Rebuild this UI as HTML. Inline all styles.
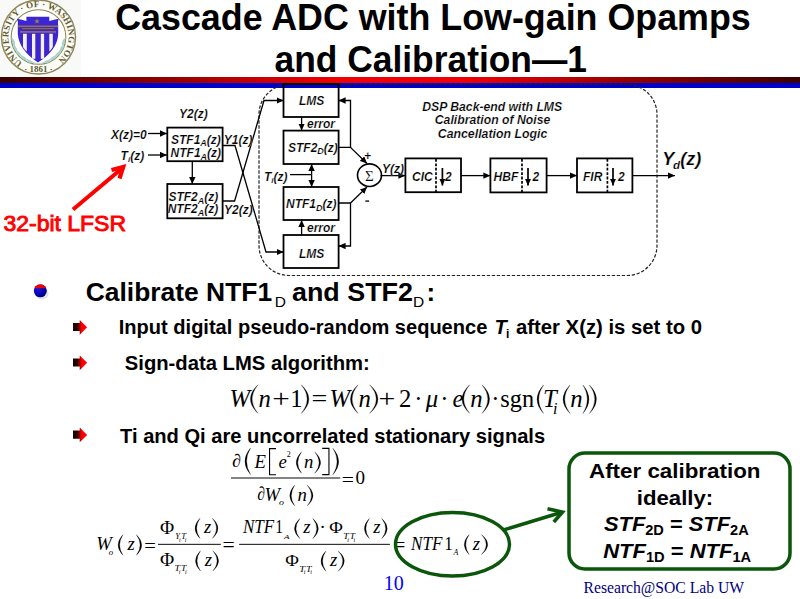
<!DOCTYPE html>
<html><head><meta charset="utf-8">
<style>
html,body{margin:0;padding:0;background:#fff;width:800px;height:599px;overflow:hidden}
svg{display:block}
.t{font-family:"Liberation Sans",sans-serif;font-weight:bold}
.d{font-family:"Liberation Sans",sans-serif;font-weight:bold;font-style:italic}
.m{font-family:"Liberation Serif",serif}
</style></head><body>
<svg width="800" height="599" viewBox="0 0 800 599" xmlns="http://www.w3.org/2000/svg">
<defs>
<linearGradient id="rg" x1="0" x2="800" y1="0" y2="0" gradientUnits="userSpaceOnUse">
<stop offset="0" stop-color="#380000"/><stop offset="0.42" stop-color="#f00000"/><stop offset="0.58" stop-color="#f00000"/><stop offset="1" stop-color="#380000"/>
</linearGradient>
<marker id="ah" markerWidth="7" markerHeight="6.4" refX="7" refY="3.2" orient="auto" markerUnits="userSpaceOnUse"><path d="M0,0 L7,3.2 L0,6.4 z" fill="#000"/></marker>
</defs>

<!-- LOGO -->
<g id="logo">
<rect x="0" y="0" width="81" height="77" fill="#f9f9f7"/>
<defs>
<path id="arcL" d="M22.60,62.44 A30,30 0 1 1 54.40,62.44"/>
</defs>
<circle cx="38.5" cy="37" r="37" fill="#fdfdf8" stroke="#8e8658" stroke-width="1.4"/>
<circle cx="38.5" cy="37" r="27.3" fill="#fff" stroke="#8e8658" stroke-width="1.1"/>
<text font-family="Liberation Serif" font-weight="bold" font-size="9" fill="#5f5a30" ><textPath href="#arcL" textLength="150" lengthAdjust="spacing">UNIVERSITY · OF · WASHINGTON</textPath></text>
<text font-family="Liberation Serif" font-weight="bold" font-size="9" fill="#5f5a30" text-anchor="middle" x="38.5" y="71.5">· 1861 ·</text>
<g fill="none" stroke="#b0d8d8" stroke-width="1.2">
<path d="M12,38 Q14,56 37,64"/>
<path d="M65,38 Q63,56 40,64"/>
</g>
<g fill="#a8d4cc">
<ellipse cx="13.5" cy="42" rx="1.3" ry="3.2" transform="rotate(-15 13.5 42)"/>
<ellipse cx="15" cy="48" rx="1.3" ry="3.2" transform="rotate(-30 15 48)"/>
<ellipse cx="18.5" cy="53.5" rx="1.3" ry="3.2" transform="rotate(-45 18.5 53.5)"/>
<ellipse cx="23.5" cy="58" rx="1.3" ry="3.2" transform="rotate(-60 23.5 58)"/>
<ellipse cx="29.5" cy="61.5" rx="1.3" ry="3.2" transform="rotate(-72 29.5 61.5)"/>
<ellipse cx="63.5" cy="42" rx="1.3" ry="3.2" transform="rotate(15 63.5 42)"/>
<ellipse cx="62" cy="48" rx="1.3" ry="3.2" transform="rotate(30 62 48)"/>
<ellipse cx="58.5" cy="53.5" rx="1.3" ry="3.2" transform="rotate(45 58.5 53.5)"/>
<ellipse cx="53.5" cy="58" rx="1.3" ry="3.2" transform="rotate(60 53.5 58)"/>
<ellipse cx="47.5" cy="61.5" rx="1.3" ry="3.2" transform="rotate(72 47.5 61.5)"/>
</g>
<path d="M17,18.8 Q22,19.5 26.4,21 L26.4,16.8 L49.3,16.8 L49.3,21 Q54,19.5 58.6,18.8 Q57.5,22 58.2,26 L58.2,34 Q57.5,50 38,62.5 Q19,50 17.8,34 L17.8,26 Q18.5,22 17,18.8 Z" fill="#3c26d4"/>
<rect x="18" y="25.5" width="40" height="1.6" fill="#9a7040"/>
<rect x="22" y="28" width="32" height="1.2" fill="#8a6a48"/>
<rect x="20" y="31.2" width="36" height="1.4" fill="#a07850"/>
<path d="M37,18.5 L37.8,20.5 L39.8,20.6 L38.2,21.8 L38.8,23.6 L37,22.5 L35.2,23.6 L35.8,21.8 L34.2,20.6 L36.2,20.5 Z" fill="#a08040"/>
<g fill="#f4f0dc">
<path d="M23,33.8 H26.8 V51.5 Q24.8,50 23,47 Z"/>
<rect x="32" y="33.8" width="3.3" height="25"/>
<rect x="40.8" y="33.8" width="3.3" height="25"/>
<path d="M49.3,33.8 H52.8 V47 Q51,50 49.3,51.5 Z"/>
</g>
</g>

<!-- TITLE -->
<text class="t" x="433" y="29.5" font-size="36" text-anchor="middle" textLength="635.5" lengthAdjust="spacingAndGlyphs">Cascade ADC with Low-gain Opamps</text>
<text class="t" x="430.75" y="71.5" font-size="36" text-anchor="middle" textLength="312.5" lengthAdjust="spacingAndGlyphs">and Calibration—1</text>

<!-- RULES -->
<rect x="0" y="77" width="800" height="6" fill="url(#rg)"/>
<rect x="0" y="83" width="800" height="5" fill="#0000cc"/>


<!-- DIAGRAM -->
<g id="diag" stroke="#000" fill="none">
<rect x="259" y="84.5" width="398" height="191" rx="30" ry="30" stroke-width="1.2" stroke="#222" stroke-dasharray="3.3,1.7"/>
<g stroke-width="1.8" fill="#fff">
<rect x="167.3" y="127.6" width="55.3" height="33.6"/>
<rect x="167.3" y="184" width="55.3" height="34.3"/>
<rect x="283.5" y="84" width="55.1" height="33" fill="none"/>
<rect x="283.5" y="130.6" width="55.1" height="33.4"/>
<rect x="283.5" y="187" width="55.1" height="33"/>
<rect x="283.5" y="235" width="55.1" height="33"/>
<rect x="405.4" y="158.4" width="55.6" height="33.8"/>
<rect x="490.4" y="158.4" width="56.2" height="34"/>
<rect x="577" y="158.4" width="55.4" height="34"/>
</g>
<g stroke-width="1.7" stroke-dasharray="2.8,1.6">
<line x1="436" y1="159" x2="436" y2="192"/>
<line x1="522" y1="159" x2="522" y2="192"/>
<line x1="607.4" y1="159" x2="607.4" y2="192"/>
</g>
<ellipse cx="369.5" cy="175.2" rx="12" ry="11.3" stroke-width="1.6" fill="#fff"/>
<g stroke-width="1.3">
<line x1="148" y1="133.5" x2="167" y2="133.5" marker-end="url(#ah)"/>
<line x1="148" y1="155" x2="167" y2="155" marker-end="url(#ah)"/>
<line x1="192.3" y1="161.2" x2="192.3" y2="184" marker-end="url(#ah)"/>
<polyline points="222.6,145.5 235,145.5 266,252 283.5,252" marker-end="url(#ah)"/>
<polyline points="222.6,201 234.6,201 264,100.5 283.5,100.5" marker-end="url(#ah)"/>
<line x1="301.6" y1="117" x2="301.6" y2="130.6" marker-end="url(#ah)"/>
<line x1="301.6" y1="235" x2="301.6" y2="220" marker-end="url(#ah)"/>
<polyline points="338.6,147.4 350.5,147.4 350.5,100.5 338.6,100.5" marker-end="url(#ah)"/>
<polyline points="338.6,203 350.5,203 350.5,246 338.6,246" marker-end="url(#ah)"/>
<line x1="350.5" y1="147.4" x2="367" y2="163.5" marker-end="url(#ah)"/>
<line x1="350.5" y1="203" x2="367" y2="187" marker-end="url(#ah)"/>
<line x1="290" y1="174.6" x2="311.6" y2="174.6"/>
<line x1="311.6" y1="174.6" x2="311.6" y2="164" marker-end="url(#ah)"/>
<line x1="311.6" y1="174.6" x2="311.6" y2="187" marker-end="url(#ah)"/>
<line x1="380.5" y1="175.6" x2="405.4" y2="175.6" marker-end="url(#ah)"/>
<line x1="461" y1="175.6" x2="490.4" y2="175.6" marker-end="url(#ah)"/>
<line x1="546.6" y1="175.6" x2="577" y2="175.6" marker-end="url(#ah)"/>
<line x1="632.4" y1="175.6" x2="675" y2="175.6" marker-end="url(#ah)"/>
<line x1="442.4" y1="168" x2="442.4" y2="185.5" stroke-width="1.7" marker-end="url(#ah)"/>
<line x1="528" y1="168" x2="528" y2="185.5" stroke-width="1.7" marker-end="url(#ah)"/>
<line x1="613" y1="168" x2="613" y2="185.5" stroke-width="1.7" marker-end="url(#ah)"/>
</g>
</g>
<g id="dlab" fill="#000" font-size="12" stroke="#fff" stroke-width="0.18">
<text class="d" x="179" y="117.5">Y2(z)</text>
<text class="d" x="111" y="139">X(z)=0</text>
<text class="d" x="120.6" y="160">T<tspan font-size="8" dy="2">i</tspan><tspan dy="-2">(z)</tspan></text>
<text class="d" x="171" y="143.5">STF1<tspan font-size="9" dy="2.5">A</tspan><tspan dy="-2.5">(z)</tspan></text>
<text class="d" x="170.6" y="157">NTF1<tspan font-size="9" dy="2.5">A</tspan><tspan dy="-2.5">(z)</tspan></text>
<text class="d" x="168.4" y="201.4">STF2<tspan font-size="9" dy="2.5">A</tspan><tspan dy="-2.5">(z)</tspan></text>
<text class="d" x="167.7" y="213.3">NTF2<tspan font-size="9" dy="2.5">A</tspan><tspan dy="-2.5">(z)</tspan></text>
<text class="d" x="223.75" y="143.75">Y1(z)</text>
<text class="d" x="224" y="214.4">Y2(z)</text>
<text class="d" x="299" y="105">LMS</text>
<text class="d" x="299" y="258">LMS</text>
<text class="d" x="307" y="128">error</text>
<text class="d" x="307" y="232">error</text>
<text class="d" x="288" y="151.6">STF2<tspan font-size="9" dy="2.5">D</tspan><tspan dy="-2.5">(z)</tspan></text>
<text class="d" x="286" y="208">NTF1<tspan font-size="9" dy="2.5">D</tspan><tspan dy="-2.5">(z)</tspan></text>
<text class="d" x="264" y="181">T<tspan font-size="8" dy="2">i</tspan><tspan dy="-2">(z)</tspan></text>
<text class="d" x="364" y="160">+</text>
<rect x="365.3" y="200.3" width="3.8" height="1.6" fill="#000"/>
<text class="m" x="369.3" y="180.8" font-size="15" text-anchor="middle" stroke="#fff" stroke-width="0.12">&#931;</text>
<text class="d" x="382" y="173">Y(z)</text>
<text class="d" x="412" y="181">CIC</text>
<text class="d" x="445" y="181">2</text>
<text class="d" x="493.6" y="181">HBF</text>
<text class="d" x="532.4" y="181">2</text>
<text class="d" x="583" y="181">FIR</text>
<text class="d" x="618" y="181">2</text>
<text class="d" x="662.3" y="165" font-size="18">Y</text><text class="d" x="673" y="168.6" font-size="11.5">d</text><text class="d" x="680.2" y="165" font-size="18" textLength="21" lengthAdjust="spacingAndGlyphs">(z)</text>
<text class="d" x="492.2" y="111.4" text-anchor="middle" textLength="140" lengthAdjust="spacingAndGlyphs">DSP Back-end with LMS</text>
<text class="d" x="492.5" y="124" text-anchor="middle" textLength="115.5" lengthAdjust="spacingAndGlyphs">Calibration of Noise</text>
<text class="d" x="492.5" y="137.5" text-anchor="middle" textLength="109.5" lengthAdjust="spacingAndGlyphs">Cancellation Logic</text>
</g>
<!-- LFSR -->
<text x="3.5" y="230.5" font-family="Liberation Sans" font-size="22" fill="#f00" stroke="#f00" stroke-width="0.9" textLength="122.5" lengthAdjust="spacingAndGlyphs">32-bit LFSR</text>
<line x1="73" y1="209.5" x2="123" y2="167.5" stroke="#f00" stroke-width="4"/>
<polyline points="111.5,170 123.2,167 119.5,178.5" fill="none" stroke="#f00" stroke-width="4.2" stroke-linejoin="miter" stroke-miterlimit="10"/>


<!-- BULLETS -->
<defs>
<radialGradient id="ball" cx="0.35" cy="0.35" r="0.75">
<stop offset="0" stop-color="#1818e0"/><stop offset="0.55" stop-color="#0000b0"/><stop offset="1" stop-color="#000020"/>
</radialGradient>
<linearGradient id="arr" x1="0" x2="1" y1="0" y2="0">
<stop offset="0" stop-color="#180000"/><stop offset="0.3" stop-color="#280000"/><stop offset="0.5" stop-color="#b00000"/><stop offset="0.62" stop-color="#ff0000"/><stop offset="1" stop-color="#ff0000"/>
</linearGradient>
</defs>
<clipPath id="bc"><circle cx="40.3" cy="290.8" r="6.5"/></clipPath>
<ellipse cx="42" cy="293.5" rx="6.5" ry="6" fill="#b8c0c8" opacity="0.45"/>
<g clip-path="url(#bc)">
<rect x="33" y="283" width="15" height="16" fill="url(#ball)"/>
<rect x="33" y="284.3" width="15" height="3.9" fill="#f00000"/>
<rect x="33" y="283" width="15" height="1.3" fill="#c0b0c0"/>
</g>
<text class="t" x="85.7" y="301.25" font-size="26" textLength="186.5" lengthAdjust="spacingAndGlyphs">Calibrate NTF1</text>
<text x="274.8" y="307.4" font-family="Liberation Sans" font-size="15.5">D</text>
<text class="t" x="292" y="301.25" font-size="26" textLength="121" lengthAdjust="spacingAndGlyphs">and STF2</text>
<text x="413" y="307.4" font-family="Liberation Sans" font-size="15.5">D</text>
<text class="t" x="426.5" y="301.25" font-size="26">:</text>

<g fill="url(#arr)">
<path d="M73,322.9 L79.75,322.9 L79.75,319.9 L87.1,327.3 L79.75,334.65 L79.75,331.1 L73,331.1 Z"/>
<path d="M73,358.4 L79.75,358.4 L79.75,355.4 L87.1,362.8 L79.75,370.15 L79.75,366.6 L73,366.6 Z"/>
<path d="M73,430.6 L79.75,430.6 L79.75,427.6 L87.1,435 L79.75,442.35 L79.75,438.8 L73,438.8 Z"/>
</g>
<text class="t" x="118.8" y="333.7" font-size="20" textLength="368.5" lengthAdjust="spacingAndGlyphs">Input digital pseudo-random sequence</text>
<text class="t" x="494.5" y="333.7" font-size="20" font-style="italic">T</text>
<text class="t" x="506" y="338" font-size="12">i</text>
<text class="t" x="516" y="333.7" font-size="20" textLength="186" lengthAdjust="spacingAndGlyphs">after X(z) is set to 0</text>
<text class="t" x="124.8" y="370" font-size="20" textLength="245" lengthAdjust="spacingAndGlyphs">Sign-data LMS algorithm:</text>
<text class="t" x="120.1" y="442.5" font-size="20" textLength="425" lengthAdjust="spacingAndGlyphs">Ti and Qi are uncorrelated stationary signals</text>

<!-- EQUATIONS -->
<g font-family="Liberation Serif" fill="#000" stroke="#fff">
<text x="229.59" y="407.40" font-size="24.7" font-style="italic" stroke-width="0.000">W</text>
<path d="M258.00,384.75 Q242.80,399.07 258.00,413.40 Q246.26,399.07 258.00,384.75 Z" stroke="#000" stroke-width="0.25"/>
<text x="258.54" y="407.40" font-size="24.7" font-style="italic" stroke-width="0.000">n</text>
<text transform="translate(272.24,407.40) scale(1.262,1)" font-size="24.7" stroke-width="0.000">+</text>
<text x="290.18" y="407.40" font-size="24.7" stroke-width="0.000">1</text>
<path d="M301.30,384.75 Q316.50,399.07 301.30,413.40 Q313.04,399.07 301.30,384.75 Z" stroke="#000" stroke-width="0.25"/>
<text transform="translate(311.60,407.40) scale(1.132,1)" font-size="24.7" stroke-width="0.000">=</text>
<text x="329.59" y="407.40" font-size="24.7" font-style="italic" stroke-width="0.000">W</text>
<path d="M358.00,384.75 Q342.80,399.07 358.00,413.40 Q346.26,399.07 358.00,384.75 Z" stroke="#000" stroke-width="0.25"/>
<text x="358.54" y="407.40" font-size="24.7" font-style="italic" stroke-width="0.000">n</text>
<path d="M369.70,384.75 Q386.30,399.07 369.70,413.40 Q382.84,399.07 369.70,384.75 Z" stroke="#000" stroke-width="0.25"/>
<text transform="translate(378.52,407.40) scale(1.202,1)" font-size="24.7" stroke-width="0.000">+</text>
<text x="398.89" y="407.40" font-size="24.7" stroke-width="0.000">2</text>
<text x="414.28" y="407.40" font-size="24.7" stroke-width="0.000">·</text>
<text x="425.70" y="407.40" font-size="24.7" font-style="italic" stroke-width="0.000">μ</text>
<text x="440.28" y="407.40" font-size="24.7" stroke-width="0.000">·</text>
<text x="452.46" y="407.40" font-size="24.7" font-style="italic" stroke-width="0.000">e</text>
<path d="M469.70,384.75 Q454.30,399.07 469.70,413.40 Q457.76,399.07 469.70,384.75 Z" stroke="#000" stroke-width="0.25"/>
<text x="470.14" y="407.40" font-size="24.7" font-style="italic" stroke-width="0.000">n</text>
<path d="M482.00,384.75 Q497.20,399.07 482.00,413.40 Q493.74,399.07 482.00,384.75 Z" stroke="#000" stroke-width="0.25"/>
<text x="491.28" y="407.40" font-size="24.7" stroke-width="0.000">·</text>
<text transform="translate(500.33,407.40) scale(0.983,1)" font-size="24.7" stroke-width="0.000">sgn</text>
<path d="M543.50,385.00 Q530.50,399.25 543.50,413.50 Q533.95,399.25 543.50,385.00 Z" stroke="#000" stroke-width="0.25"/>
<text x="542.89" y="407.40" font-size="24.7" font-style="italic" stroke-width="0.000">T</text>
<text x="553.12" y="413.50" font-size="16" font-style="italic" stroke-width="0.000">i</text>
<path d="M570.00,385.00 Q556.00,399.25 570.00,413.50 Q559.45,399.25 570.00,385.00 Z" stroke="#000" stroke-width="0.25"/>
<text x="570.14" y="407.40" font-size="24.7" font-style="italic" stroke-width="0.000">n</text>
<path d="M583.00,385.00 Q595.00,399.25 583.00,413.50 Q591.55,399.25 583.00,385.00 Z" stroke="#000" stroke-width="0.25"/>
<path d="M589.50,385.00 Q603.50,399.25 589.50,413.50 Q600.05,399.25 589.50,385.00 Z" stroke="#000" stroke-width="0.25"/>
<text transform="translate(232.28,467.22) scale(0.1786,0.1837)" font-size="100" stroke-width="0.000">∂</text>
<path d="M250.50,448.00 Q239.30,461.30 250.50,474.60 Q242.67,461.30 250.50,448.00 Z" stroke="#000" stroke-width="0.25"/>
<text x="254.49" y="467.50" font-size="18.7" font-style="italic" stroke-width="0.000">E</text>
<path d="M276.00,448.65 H269.55 V474.75 H276.00" fill="none" stroke="#000" stroke-width="1.1"/>
<text x="278.44" y="467.50" font-size="18.7" font-style="italic" stroke-width="0.000">e</text>
<text transform="translate(286.74,457.20) scale(0.0800,0.0727)" font-size="100" stroke-width="0.000">2</text>
<path d="M301.50,451.90 Q290.90,462.55 301.50,473.20 Q294.04,462.55 301.50,451.90 Z" stroke="#000" stroke-width="0.25"/>
<text x="304.05" y="467.80" font-size="18.7" font-style="italic" stroke-width="0.000">n</text>
<path d="M314.80,451.90 Q326.40,462.55 314.80,473.20 Q323.26,462.55 314.80,451.90 Z" stroke="#000" stroke-width="0.25"/>
<path d="M322.20,448.35 H328.95 V474.65 H322.20" fill="none" stroke="#000" stroke-width="1.1"/>
<path d="M332.80,448.20 Q344.60,461.50 332.80,474.80 Q341.23,461.50 332.80,448.20 Z" stroke="#000" stroke-width="0.25"/>
<rect x="231" y="477.40" width="109.30" height="1.2" fill="#333" stroke="none"/>
<text transform="translate(341.81,485.64) scale(0.2172,0.1920)" font-size="100" stroke-width="0.000">=</text>
<text transform="translate(355.44,483.62) scale(0.1905,0.1807)" font-size="100" stroke-width="0.000">0</text>
<text transform="translate(257.36,500.31) scale(0.1548,0.1905)" font-size="100" stroke-width="0.000">∂</text>
<text x="264.48" y="500.60" font-size="18.7" font-style="italic" stroke-width="0.000">W</text>
<text transform="translate(279.00,505.33) scale(0.1000,0.0729)" font-size="100" font-style="italic" stroke-width="0.000">o</text>
<path d="M294.60,485.20 Q285.00,495.50 294.60,505.80 Q288.11,495.50 294.60,485.20 Z" stroke="#000" stroke-width="0.25"/>
<text x="297.45" y="500.60" font-size="18.7" font-style="italic" stroke-width="0.000">n</text>
<path d="M307.30,485.20 Q318.70,495.50 307.30,505.80 Q315.59,495.50 307.30,485.20 Z" stroke="#000" stroke-width="0.25"/>
<text x="96.28" y="549.60" font-size="18.7" font-style="italic" stroke-width="0.000">W</text>
<text transform="translate(108.63,554.73) scale(0.0886,0.0729)" font-size="100" font-style="italic" stroke-width="0.000">o</text>
<path d="M122.90,534.70 Q113.30,544.95 122.90,555.20 Q116.40,544.95 122.90,534.70 Z" stroke="#000" stroke-width="0.25"/>
<text x="127.39" y="549.60" font-size="18.7" font-style="italic" stroke-width="0.000">z</text>
<path d="M136.40,534.70 Q147.00,544.95 136.40,555.20 Q143.90,544.95 136.40,534.70 Z" stroke="#000" stroke-width="0.25"/>
<text transform="translate(144.17,551.74) scale(0.2065,0.1920)" font-size="100" stroke-width="0.000">=</text>
<rect x="158" y="543.80" width="62.80" height="1.2" fill="#333" stroke="none"/>
<text transform="translate(160.02,533.50) scale(0.1940,0.1908)" font-size="100" stroke-width="0.000">Φ</text>
<text transform="translate(175.29,538.97) scale(0.941,1)" font-size="9" font-style="italic" stroke-width="0.000">Y</text>
<text x="179.01" y="541.80" font-size="6" font-style="italic" stroke-width="0.000">i</text>
<text transform="translate(181.14,538.97) scale(0.954,1)" font-size="9" font-style="italic" stroke-width="0.000">T</text>
<text x="184.67" y="541.80" font-size="6" font-style="italic" stroke-width="0.000">i</text>
<path d="M200.00,518.20 Q190.00,528.30 200.00,538.40 Q193.09,528.30 200.00,518.20 Z" stroke="#000" stroke-width="0.25"/>
<text x="204.09" y="533.40" font-size="18.7" font-style="italic" stroke-width="0.000">z</text>
<path d="M212.40,518.20 Q223.60,528.30 212.40,538.40 Q220.51,528.30 212.40,518.20 Z" stroke="#000" stroke-width="0.25"/>
<text transform="translate(160.02,566.09) scale(0.1940,0.1815)" font-size="100" stroke-width="0.000">Φ</text>
<text transform="translate(174.55,571.38) scale(1.103,1)" font-size="9" font-style="italic" stroke-width="0.000">T</text>
<text x="178.77" y="573.90" font-size="6" font-style="italic" stroke-width="0.000">i</text>
<text transform="translate(181.09,571.38) scale(1.051,1)" font-size="9" font-style="italic" stroke-width="0.000">T</text>
<text x="185.01" y="573.90" font-size="6" font-style="italic" stroke-width="0.000">i</text>
<path d="M200.50,550.80 Q190.50,560.90 200.50,571.00 Q193.59,560.90 200.50,550.80 Z" stroke="#000" stroke-width="0.25"/>
<text x="204.69" y="566.00" font-size="18.7" font-style="italic" stroke-width="0.000">z</text>
<path d="M212.90,550.80 Q224.30,560.90 212.90,571.00 Q221.21,560.90 212.90,550.80 Z" stroke="#000" stroke-width="0.25"/>
<text transform="translate(222.51,552.10) scale(0.2172,0.2000)" font-size="100" stroke-width="0.000">=</text>
<rect x="239.1" y="543.80" width="150.80" height="1.2" fill="#333" stroke="none"/>
<text transform="translate(242.99,533.20) scale(0.913,1)" font-size="18.7" font-style="italic" stroke-width="0.000">NTF</text>
<text transform="translate(275.21,533.20) scale(0.1543,0.1832)" font-size="100" stroke-width="0.000">1</text>
<text transform="translate(284.09,538.60) scale(0.0896,0.0656)" font-size="100" font-style="italic" stroke-width="0.000">A</text>
<path d="M299.90,518.50 Q289.10,528.55 299.90,538.60 Q292.18,528.55 299.90,518.50 Z" stroke="#000" stroke-width="0.25"/>
<text x="303.29" y="533.20" font-size="18.7" font-style="italic" stroke-width="0.000">z</text>
<path d="M312.90,518.50 Q323.70,528.55 312.90,538.60 Q320.62,528.55 312.90,518.50 Z" stroke="#000" stroke-width="0.25"/>
<text x="319.44" y="533.20" font-size="18.7" stroke-width="0.000">·</text>
<text transform="translate(329.14,533.29) scale(0.1851,0.1754)" font-size="100" stroke-width="0.000">Φ</text>
<text transform="translate(343.15,539.16) scale(1.103,1)" font-size="9" font-style="italic" stroke-width="0.000">T</text>
<text x="347.37" y="541.90" font-size="6" font-style="italic" stroke-width="0.000">i</text>
<text transform="translate(349.69,539.16) scale(1.051,1)" font-size="9" font-style="italic" stroke-width="0.000">T</text>
<text x="353.61" y="541.90" font-size="6" font-style="italic" stroke-width="0.000">i</text>
<path d="M369.30,518.50 Q359.50,528.55 369.30,538.60 Q362.58,528.55 369.30,518.50 Z" stroke="#000" stroke-width="0.25"/>
<text x="373.29" y="533.20" font-size="18.7" font-style="italic" stroke-width="0.000">z</text>
<path d="M381.80,518.50 Q392.60,528.55 381.80,538.60 Q389.52,528.55 381.80,518.50 Z" stroke="#000" stroke-width="0.25"/>
<text transform="translate(285.24,565.78) scale(0.1866,0.1662)" font-size="100" stroke-width="0.000">Φ</text>
<text transform="translate(299.22,571.82) scale(1.154,1)" font-size="9" font-style="italic" stroke-width="0.000">T</text>
<text x="303.65" y="574.40" font-size="6" font-style="italic" stroke-width="0.000">i</text>
<text transform="translate(306.06,571.82) scale(1.099,1)" font-size="9" font-style="italic" stroke-width="0.000">T</text>
<text x="310.18" y="574.40" font-size="6" font-style="italic" stroke-width="0.000">i</text>
<path d="M325.90,551.10 Q316.10,561.15 325.90,571.20 Q319.18,561.15 325.90,551.10 Z" stroke="#000" stroke-width="0.25"/>
<text x="329.89" y="565.70" font-size="18.7" font-style="italic" stroke-width="0.000">z</text>
<path d="M338.30,551.10 Q350.30,561.15 338.30,571.20 Q347.22,561.15 338.30,551.10 Z" stroke="#000" stroke-width="0.25"/>
<text transform="translate(395.32,552.21) scale(0.1763,0.2200)" font-size="100" stroke-width="0.000">=</text>
<text transform="translate(411.09,549.90) scale(0.913,1)" font-size="18.7" font-style="italic" stroke-width="0.000">NTF</text>
<text transform="translate(444.36,549.90) scale(0.1714,0.1954)" font-size="100" stroke-width="0.000">1</text>
<text transform="translate(453.44,554.80) scale(0.0791,0.0794)" font-size="100" font-style="italic" stroke-width="0.000">A</text>
<path d="M469.10,534.60 Q459.50,544.60 469.10,554.60 Q462.58,544.60 469.10,534.60 Z" stroke="#000" stroke-width="0.25"/>
<text x="472.69" y="549.80" font-size="18.7" font-style="italic" stroke-width="0.000">z</text>
<path d="M481.50,534.60 Q493.90,544.60 481.50,554.60 Q490.82,544.60 481.50,534.60 Z" stroke="#000" stroke-width="0.25"/>
</g>

<!-- GREEN -->
<g stroke="#0a560a" fill="none" stroke-width="3.5">
<ellipse cx="452.5" cy="544.3" rx="57" ry="31.8"/>
<line x1="503.5" y1="530" x2="561" y2="512.5"/>
<polyline points="547.5,508.8 562.5,512 553.8,522" stroke-linejoin="miter"/>
<rect x="569" y="453" width="221" height="116" rx="16" ry="16"/>
</g>
<text class="t" x="674.75" y="478" font-size="21" text-anchor="middle" textLength="171.5" lengthAdjust="spacingAndGlyphs">After calibration</text>
<text class="t" x="675" y="505" font-size="21" text-anchor="middle" textLength="76.5" lengthAdjust="spacingAndGlyphs">ideally:</text>
<text class="t" x="604" y="531.4" font-size="21" textLength="144.7" lengthAdjust="spacingAndGlyphs"><tspan font-style="italic">STF</tspan><tspan font-size="14" dy="4">2D</tspan><tspan dy="-4"> = </tspan><tspan font-style="italic">STF</tspan><tspan font-size="14" dy="4">2A</tspan></text>
<text class="t" x="603.2" y="557.5" font-size="21" textLength="148" lengthAdjust="spacingAndGlyphs"><tspan font-style="italic">NTF</tspan><tspan font-size="14" dy="4">1D</tspan><tspan dy="-4"> = </tspan><tspan font-style="italic">NTF</tspan><tspan font-size="14" dy="4">1A</tspan></text>

<!-- FOOTER -->
<text class="m" x="383.8" y="590.25" font-size="20" fill="#0000ff">10</text>
<text class="m" x="583.5" y="592.6" font-size="16" fill="#000080" textLength="160.5" lengthAdjust="spacingAndGlyphs">Research@SOC Lab UW</text>

</svg>
</body></html>
